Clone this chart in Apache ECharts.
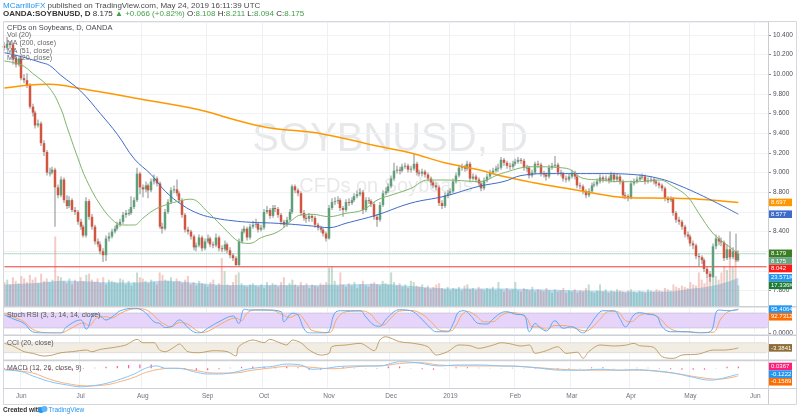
<!DOCTYPE html>
<html><head><meta charset="utf-8">
<script src="https://cdn.jsdelivr.net/npm/echarts@6/dist/echarts.min.js"></script>
<style>html,body{margin:0;padding:0;background:#fff}#c{width:800px;height:418px}</style>
</head><body><div id="c"></div>
<script>
// ---------- DATA ----------
const startDate = '2018-05-24';
const holidays = ['2019-04-19'];
const emptySlots = 10;
const monthNames = ['Jan','Feb','Mar','Apr','May','Jun','Jul','Aug','Sep','Oct','Nov','Dec'];

const opens = [10.29,10.27,10.31,10.30,10.16,10.10,10.16,9.96,9.94,9.89,
9.67,9.61,9.48,9.50,9.30,9.21,9.00,9.00,9.03,8.85,
8.77,8.93,8.72,8.66,8.72,8.62,8.60,8.50,8.45,8.36,
8.71,8.55,8.45,8.30,8.27,8.20,8.16,8.33,8.35,8.40,
8.43,8.47,8.50,8.57,8.59,8.59,8.65,8.72,8.99,8.85,
8.83,8.87,8.82,8.91,8.94,8.89,8.45,8.43,8.60,8.70,
8.82,8.83,8.79,8.72,8.57,8.42,8.40,8.35,8.24,8.26,
8.34,8.23,8.30,8.33,8.27,8.26,8.34,8.23,8.22,8.27,
8.21,8.16,8.13,8.06,8.30,8.40,8.43,8.34,8.45,8.47,
8.48,8.42,8.44,8.60,8.62,8.56,8.64,8.63,8.57,8.50,
8.47,8.52,8.60,8.86,8.82,8.79,8.59,8.54,8.53,8.56,
8.54,8.47,8.44,8.42,8.38,8.33,8.64,8.70,8.71,8.72,
8.64,8.62,8.70,8.69,8.72,8.76,8.78,8.80,8.62,8.72,
8.71,8.68,8.55,8.52,8.67,8.79,8.81,8.86,8.94,9.02,
9.03,9.02,9.06,9.07,9.03,9.04,9.09,9.00,8.99,9.01,
8.98,8.94,8.90,8.87,8.85,8.69,8.66,8.77,8.79,8.81,
8.91,8.97,9.05,9.06,9.04,9.09,8.94,8.96,8.93,8.89,
8.84,8.92,8.96,9.00,9.02,9.04,9.05,9.13,9.10,9.07,
9.06,9.09,9.11,9.13,9.12,9.05,9.05,8.97,9.00,9.09,
9.08,8.99,8.98,8.96,9.05,9.07,9.08,9.00,8.99,8.94,
8.93,8.96,9.00,8.96,8.87,8.86,8.81,8.77,8.81,8.87,
8.88,8.91,8.95,8.93,8.94,8.92,8.98,8.93,8.96,8.91,
8.77,8.76,8.74,8.89,8.91,8.93,8.95,8.96,8.91,8.92,
8.93,8.91,8.89,8.87,8.84,8.74,8.72,8.73,8.59,8.52,
8.50,8.45,8.37,8.35,8.28,8.26,8.15,8.14,8.11,8.02,
7.97,7.94,8.25,8.33,8.30,8.29,8.13,8.22,8.14,8.20,8.108];

const closes = [10.27,10.31,10.30,10.16,10.10,10.16,9.96,9.94,9.89,9.67,
9.61,9.48,9.50,9.30,9.21,9.00,9.00,9.03,8.85,8.77,
8.93,8.72,8.66,8.72,8.62,8.60,8.50,8.45,8.36,8.71,
8.55,8.45,8.30,8.27,8.20,8.16,8.33,8.35,8.40,8.43,
8.47,8.50,8.57,8.59,8.59,8.65,8.72,8.99,8.85,8.83,
8.87,8.82,8.91,8.94,8.89,8.45,8.43,8.60,8.70,8.82,
8.83,8.79,8.72,8.57,8.42,8.40,8.35,8.24,8.26,8.34,
8.23,8.30,8.33,8.27,8.26,8.34,8.23,8.22,8.27,8.21,
8.16,8.13,8.06,8.30,8.40,8.43,8.34,8.45,8.47,8.48,
8.42,8.44,8.60,8.62,8.56,8.64,8.63,8.57,8.50,8.47,
8.52,8.60,8.86,8.82,8.79,8.59,8.54,8.53,8.56,8.54,
8.47,8.44,8.42,8.38,8.33,8.64,8.70,8.71,8.72,8.64,
8.62,8.70,8.69,8.72,8.76,8.78,8.80,8.62,8.72,8.71,
8.68,8.55,8.52,8.67,8.79,8.81,8.86,8.94,9.02,9.03,
9.02,9.06,9.07,9.03,9.04,9.09,9.00,8.99,9.01,8.98,
8.94,8.90,8.87,8.85,8.69,8.66,8.77,8.79,8.81,8.91,
8.97,9.05,9.06,9.04,9.09,8.94,8.96,8.93,8.89,8.84,
8.92,8.96,9.00,9.02,9.04,9.05,9.13,9.10,9.07,9.06,
9.09,9.11,9.13,9.12,9.05,9.05,8.97,9.00,9.09,9.08,
8.99,8.98,8.96,9.05,9.07,9.08,9.00,8.99,8.94,8.93,
8.96,9.00,8.96,8.87,8.86,8.81,8.77,8.81,8.87,8.88,
8.91,8.95,8.93,8.94,8.92,8.98,8.93,8.96,8.91,8.77,
8.76,8.74,8.89,8.91,8.93,8.95,8.96,8.91,8.92,8.93,
8.91,8.89,8.87,8.84,8.74,8.72,8.73,8.59,8.52,8.50,
8.45,8.37,8.35,8.28,8.26,8.15,8.14,8.11,8.02,7.97,
7.94,8.25,8.33,8.30,8.29,8.13,8.22,8.14,8.20,8.109,8.175];

const highs = [10.33,10.38,10.34,10.32,10.19,10.18,10.18,10.00,10.01,9.91,
9.70,9.63,9.54,9.52,9.33,9.23,9.05,9.06,9.05,8.88,
8.96,8.95,8.77,8.76,8.74,8.65,8.62,8.53,8.47,8.75,
8.73,8.58,8.47,8.33,8.30,8.23,8.36,8.39,8.43,8.46,
8.50,8.53,8.60,8.62,8.63,8.76,8.75,9.05,9.01,8.88,
8.91,8.89,8.94,8.98,8.96,8.91,8.49,8.63,8.73,8.85,
8.87,8.93,8.81,8.74,8.59,8.45,8.42,8.37,8.29,8.37,
8.36,8.33,8.37,8.35,8.30,8.38,8.36,8.26,8.31,8.29,
8.24,8.18,8.15,8.33,8.43,8.46,8.45,8.48,8.51,8.53,
8.50,8.47,8.63,8.66,8.64,8.67,8.67,8.65,8.59,8.52,
8.55,8.63,8.88,8.88,8.84,8.81,8.62,8.57,8.59,8.58,
8.56,8.49,8.46,8.44,8.40,8.67,8.74,8.75,8.76,8.74,
8.66,8.73,8.74,8.75,8.79,8.82,8.84,8.82,8.75,8.75,
8.73,8.70,8.58,8.70,8.82,8.85,8.89,8.97,9.10,9.07,
9.06,9.09,9.10,9.09,9.07,9.19,9.11,9.03,9.04,9.03,
9.00,8.96,8.92,8.90,8.87,8.72,8.80,8.82,8.84,8.94,
9.00,9.08,9.09,9.08,9.12,9.11,8.99,8.98,8.95,8.91,
8.95,8.99,9.03,9.05,9.07,9.09,9.16,9.15,9.12,9.10,
9.12,9.14,9.16,9.15,9.14,9.08,9.07,9.03,9.11,9.12,
9.10,9.02,9.00,9.08,9.10,9.17,9.10,9.03,9.01,8.97,
8.99,9.03,9.02,8.98,8.90,8.88,8.83,8.84,8.90,8.91,
8.94,8.98,8.97,8.97,8.96,9.01,9.00,8.99,8.98,8.93,
8.80,8.78,8.92,8.94,8.96,8.98,8.99,8.98,8.95,8.96,
8.95,8.93,8.91,8.89,8.86,8.76,8.76,8.75,8.61,8.55,
8.52,8.47,8.40,8.37,8.31,8.28,8.18,8.16,8.13,8.04,
8.00,8.28,8.37,8.36,8.34,8.31,8.27,8.40,8.24,8.38,8.211];

const lows = [10.24,10.25,10.26,10.10,10.07,10.08,9.94,9.91,9.86,9.65,
9.57,9.45,9.46,9.27,9.17,8.97,8.96,8.98,8.45,8.74,
8.75,8.69,8.63,8.64,8.60,8.57,8.47,8.42,8.34,8.34,
8.52,8.42,8.27,8.24,8.17,8.09,8.10,8.30,8.33,8.38,
8.41,8.45,8.48,8.54,8.56,8.57,8.63,8.70,8.78,8.75,
8.80,8.74,8.80,8.88,8.86,8.43,8.38,8.41,8.58,8.68,
8.79,8.76,8.69,8.54,8.39,8.37,8.32,8.21,8.20,8.24,
8.20,8.21,8.28,8.24,8.23,8.24,8.20,8.19,8.20,8.18,
8.13,8.10,8.05,8.05,8.28,8.38,8.31,8.32,8.43,8.44,
8.39,8.40,8.42,8.58,8.53,8.54,8.60,8.54,8.47,8.44,
8.45,8.50,8.58,8.79,8.76,8.56,8.51,8.49,8.50,8.50,
8.44,8.41,8.39,8.35,8.30,8.32,8.62,8.67,8.68,8.61,
8.55,8.60,8.66,8.67,8.70,8.74,8.76,8.58,8.60,8.68,
8.65,8.52,8.45,8.50,8.65,8.77,8.79,8.84,8.92,8.99,
8.98,9.00,9.04,9.00,9.00,9.02,8.97,8.96,8.96,8.95,
8.91,8.87,8.84,8.82,8.66,8.63,8.64,8.74,8.77,8.79,
8.89,8.95,9.02,9.01,9.02,8.91,8.92,8.90,8.86,8.81,
8.82,8.90,8.94,8.98,9.00,9.01,9.03,9.07,9.04,9.03,
9.04,9.07,9.09,9.09,9.02,9.01,8.94,8.95,8.98,9.05,
8.96,8.95,8.92,8.94,9.03,9.05,8.97,8.96,8.91,8.90,
8.91,8.94,8.93,8.84,8.83,8.78,8.74,8.75,8.79,8.85,
8.86,8.89,8.90,8.91,8.89,8.90,8.90,8.91,8.88,8.74,
8.73,8.71,8.73,8.87,8.89,8.91,8.93,8.88,8.89,8.90,
8.88,8.86,8.84,8.81,8.71,8.69,8.70,8.56,8.49,8.47,
8.42,8.34,8.32,8.25,8.22,8.12,8.04,8.07,7.99,7.93,
7.89,7.93,8.22,8.26,8.25,8.10,8.11,8.12,8.12,8.09,8.094];

const volumesK = [20,22,18,24,21,19,25,23,20,26,
22,24,19,27,21,23,20,22,58,25,
24,21,19,23,18,22,20,24,21,26,
27,22,20,23,19,24,18,22,21,20,
19,23,22,18,21,17,20,28,24,23,
21,19,22,20,18,28,26,22,21,24,
20,23,21,19,22,25,18,20,17,21,
19,18,16,20,22,17,19,40,29,18,
17,20,26,28,19,17,16,18,19,17,
16,18,15,20,17,19,18,16,20,24,
17,19,22,18,16,20,17,19,15,18,
17,16,19,18,20,32,33,21,17,28,
18,16,19,17,20,15,18,21,17,16,
19,20,18,17,21,19,18,28,20,17,
19,16,18,15,21,20,17,16,18,15,
17,14,16,18,19,15,14,16,13,15,
14,16,13,17,18,14,15,13,16,14,
13,15,14,16,13,20,14,12,15,13,
14,20,13,12,15,14,13,16,12,14,
13,12,15,13,11,14,12,13,15,11,
13,12,14,11,13,12,15,18,12,11,
13,18,12,14,11,13,12,14,13,12,
11,13,14,12,11,13,12,11,14,13,
12,14,13,12,15,14,13,18,16,15,
17,16,15,20,18,17,28,22,19,24,
26,40,25,22,28,33,30,41,33,38,17.336];

// moving averages / indicators, read at sample bars as [barIndex, value]
const ma200Pts = [[0,9.86],[8,9.89],[16,9.90],[28,9.85],[46,9.76],[69,9.64],[80,9.55],[93,9.46],[109,9.41],[120,9.35],[132,9.27],[144,9.20],[156,9.10],[168,9.03],[177,8.96],[187,8.90],[199,8.84],[211,8.78],[221,8.745],[235,8.74],[246,8.73],[260,8.697]];
const ma51Pts = [[0,10.22],[6,10.18],[13,10.12],[16,10.09],[20,9.99],[27,9.83],[34,9.60],[40,9.39],[46,9.14],[52,8.98],[57,8.81],[63,8.67],[69,8.58],[75,8.535],[81,8.51],[87,8.495],[97,8.484],[109,8.457],[115,8.44],[121,8.485],[132,8.57],[144,8.69],[156,8.76],[168,8.86],[177,8.91],[183,8.97],[193,8.99],[211,8.99],[223,8.98],[232,8.94],[239,8.87],[249,8.74],[260,8.577]];
const ma20Pts = [[0,10.135],[6,10.095],[10,10.01],[16,9.86],[20,9.65],[22,9.48],[26,9.15],[29,8.93],[34,8.67],[39,8.50],[42,8.467],[46,8.467],[49,8.535],[53,8.62],[57,8.67],[61,8.704],[66,8.73],[72,8.60],[79,8.40],[83,8.30],[87,8.28],[91,8.34],[97,8.40],[102,8.52],[105,8.57],[109,8.576],[115,8.552],[121,8.586],[127,8.62],[132,8.72],[138,8.78],[144,8.84],[150,8.925],[156,8.925],[162,8.918],[168,8.908],[176,8.99],[187,9.06],[199,9.044],[205,8.942],[211,8.925],[218,8.908],[225,8.908],[232,8.925],[237,8.857],[242,8.755],[246,8.586],[251,8.383],[256,8.264],[260,8.179]];
const volMaPts = [[0,18],[10,19],[22,21],[34,20],[46,19.5],[57,21],[69,19],[81,17.5],[96,17.5],[109,17.5],[120,18],[132,18.3],[145,16.5],[156,14.7],[167,14.5],[177,14.7],[188,14],[199,13.3],[211,12.5],[223,12],[235,12],[242,14],[249,16],[256,20],[260,23.571]];
const stochKPts = [[0,72],[3,57],[7,38],[10,5],[14,0],[20,0],[22,25],[27,52],[29,15],[32,79],[34,68],[36,52],[39,72],[41,89],[46,99],[48,95],[50,81],[53,45],[55,38],[57,22],[59,25],[62,52],[65,22],[67,5],[69,0],[72,19],[76,45],[81,68],[83,38],[85,95],[87,92],[93,92],[98,85],[99,45],[102,79],[104,72],[106,19],[108,0],[114,0],[117,79],[119,89],[126,89],[128,65],[131,31],[133,27],[135,52],[138,85],[140,93],[144,89],[147,65],[151,19],[153,5],[157,5],[159,38],[161,85],[163,89],[165,72],[168,38],[171,36],[173,55],[176,81],[178,85],[181,75],[184,72],[186,5],[188,38],[190,19],[192,8],[195,49],[198,19],[201,25],[205,0],[207,25],[210,72],[212,89],[216,89],[218,59],[220,25],[223,72],[225,81],[228,75],[231,68],[233,25],[236,5],[242,5],[246,0],[250,5],[253,92],[257,89],[260,95.4064]];
const stochDPts = [[0,78],[3,65],[7,45],[10,15],[14,2],[20,0],[23,15],[28,40],[30,30],[33,62],[36,65],[38,60],[41,78],[45,95],[48,97],[51,88],[54,58],[56,40],[59,25],[62,42],[65,35],[68,10],[70,2],[73,12],[77,38],[82,60],[84,50],[86,80],[89,93],[95,90],[99,70],[101,62],[104,75],[107,40],[109,10],[115,2],[118,60],[121,85],[127,88],[130,72],[132,45],[134,32],[137,60],[140,88],[144,90],[148,75],[152,35],[154,12],[158,8],[160,30],[162,72],[164,86],[167,70],[170,45],[173,45],[176,70],[179,82],[182,78],[185,60],[187,25],[189,25],[192,15],[195,30],[198,30],[202,20],[206,8],[208,20],[211,55],[214,85],[217,85],[220,50],[222,45],[225,70],[228,78],[232,60],[235,25],[238,8],[243,4],[247,2],[251,3],[254,60],[257,88],[260,92.7312]];
const cciPts = [[0,87],[3,34],[7,-80],[10,-113],[14,-167],[17,-147],[20,-100],[24,-80],[29,-47],[31,-80],[34,-33],[39,7],[43,54],[47,167],[49,100],[53,100],[55,-47],[57,-80],[60,7],[62,74],[65,-80],[69,-100],[74,-60],[79,-80],[82,-167],[83,20],[88,154],[92,100],[94,167],[98,87],[100,54],[102,154],[105,100],[108,-47],[112,-147],[115,-113],[116,20],[121,54],[126,87],[131,-60],[133,154],[135,220],[140,120],[145,87],[150,20],[153,-147],[157,-80],[161,54],[165,40],[168,-13],[173,50],[176,100],[179,80],[183,34],[186,54],[188,-113],[192,-60],[196,20],[199,-113],[203,-90],[205,-213],[207,-80],[211,54],[216,34],[220,50],[223,87],[225,40],[230,7],[233,-180],[237,-213],[240,-147],[246,-127],[251,-47],[255,-47],[258,-30],[260,-3.3841]];
const macdPts = [[0,-0.036],[6,-0.07],[10,-0.16],[16,-0.28],[22,-0.35],[27,-0.39],[31,-0.37],[36,-0.32],[41,-0.23],[46,-0.12],[50,0],[54,0.05],[57,0],[62,0],[67,-0.07],[72,-0.12],[76,-0.12],[81,-0.09],[86,-0.02],[91,0.02],[95,0.04],[100,0.09],[105,0.07],[109,-0.02],[114,0],[119,0.04],[126,0.05],[133,0.05],[138,0.12],[140,0.14],[147,0.11],[154,0.05],[161,0.07],[168,0.07],[176,0.05],[183,0.04],[190,0],[197,-0.04],[204,-0.04],[211,-0.02],[218,-0.04],[223,-0.03],[230,-0.05],[237,-0.1],[244,-0.19],[250,-0.25],[253,-0.23],[257,-0.17],[260,-0.1222]];
const signalPts = [[0,-0.02],[10,-0.1],[16,-0.23],[22,-0.32],[29,-0.37],[36,-0.35],[41,-0.28],[46,-0.19],[50,-0.09],[55,-0.02],[60,0],[67,-0.04],[74,-0.1],[81,-0.1],[88,-0.04],[95,0.01],[102,0.05],[109,0.02],[116,-0.01],[126,0.04],[135,0.06],[140,0.1],[147,0.12],[154,0.07],[164,0.05],[176,0.05],[187,0.02],[197,-0.02],[206,-0.04],[216,-0.04],[225,-0.04],[232,-0.07],[239,-0.12],[246,-0.19],[253,-0.23],[260,-0.1589]];
const histPts = [[0,-0.016],[4,-0.03],[8,-0.04],[12,-0.05],[16,-0.05],[20,-0.04],[24,-0.04],[28,-0.01],[32,0.01],[36,0.03],[40,0.05],[44,0.07],[48,0.08],[52,0.08],[56,0.03],[60,0],[64,-0.02],[68,-0.04],[72,-0.04],[76,-0.02],[80,0.01],[84,0.03],[88,0.04],[92,0.03],[96,0.03],[100,0.04],[104,0.02],[108,-0.03],[112,-0.03],[116,0.01],[120,0.02],[124,0.01],[128,0.005],[132,-0.01],[136,0.04],[140,0.04],[144,0.004],[148,-0.02],[152,-0.03],[156,0.004],[160,0.02],[164,0.02],[168,0.01],[172,0.004],[176,0.004],[180,0.01],[184,0.004],[188,-0.01],[192,-0.02],[196,-0.02],[200,-0.01],[204,0.004],[208,0.02],[212,0.02],[216,0.004],[220,0.004],[224,0.01],[228,0.01],[232,-0.01],[236,-0.02],[240,-0.03],[244,-0.03],[248,-0.03],[252,0.004],[256,0.03],[260,0.0367]];

// last-value tags on the right scale: [text, value, colour]
const priceTags = [['8.697',8.697,'#ff9800'],['8.577',8.577,'#3f6bc9'],['8.179',8.179,'#3b7d23'],['8.175',8.175,'#6ba583'],['8.042',8.042,'#ff1a1a']];
const volumeTags = [['23.571K',23.571,'#2196f3'],['17.336K',17.336,'#1f7a38']];
const stochTags = [['95.4064',95.4064,'#2196f3'],['92.7312',92.7312,'#ff6d00']];
const cciTags = [['-3.3841',-3.3841,'#8f6d36']];
const macdTags = [['0.0367',0.0367,'#ff1f7a'],['-0.1222',-0.1222,'#2196f3'],['-0.1589',-0.1589,'#ff6d00']];
const supportLevel = 8.042;
const lastPrice = 8.175;
const stochBand = [20, 80];
const cciBand = [-100, 100];

// ---------- build categories (trading days) ----------
const categories = [];
(function(){
  const d = new Date(startDate + 'T00:00:00Z');
  while (categories.length < closes.length + emptySlots) {
    const wd = d.getUTCDay();
    const s = d.toISOString().slice(0,10);
    if (wd !== 0 && wd !== 6 && holidays.indexOf(s) < 0) categories.push(s);
    d.setUTCDate(d.getUTCDate() + 1);
  }
})();
const lastIdx = categories.length - 1;
const monthStart = new Set();
for (let i = 1; i < categories.length; i++) {
  if (categories[i].slice(5,7) !== categories[i-1].slice(5,7)) monthStart.add(i);
}
function fmtMonth(v){ const m = +v.slice(5,7); return m === 1 ? v.slice(0,4) : monthNames[m-1]; }
// price-scale labels that a value tag covers are not drawn (as on the original)
function fmtPrice(v){
  for (const t of priceTags) if (Math.abs(t[1] - v) < 0.06) return '';
  return v.toFixed(3);
}

const FONT = '"Liberation Sans", Arial, sans-serif';
const chart = echarts.init(document.getElementById('c'), null, {renderer:'canvas'});

const candleData = closes.map((c,i)=>[i, opens[i], c, lows[i], highs[i]]);
const volData = volumesK.map((v,i)=>({value:v, itemStyle:{color: closes[i] >= opens[i] ? 'rgba(107,165,131,0.40)' : 'rgba(215,84,66,0.30)'}}));

function xAx(g, showLabel){
  return {type:'category', gridIndex:g, data:categories, boundaryGap:true,
    axisLine:{show:false}, axisTick:{show:false},
    axisLabel:{show:showLabel, interval:(i)=>monthStart.has(i), formatter:fmtMonth, fontSize:6.5, color:'#70737c', margin:5, fontFamily:FONT},
    splitLine:{show: g !== 1, interval:(i)=>monthStart.has(i), lineStyle:{color:'#eef0f4', width:1}}};
}
function hLine(name, xi, yi, v, color, type, z){
  return {type:'line', name:name, xAxisIndex:xi, yAxisIndex:yi, data:[[0, v],[lastIdx, v]], showSymbol:false, silent:true, z:z,
    lineStyle:{color:color, width:1, type:type}};
}

const staticGraphics = [
  {type:'text', z:0, style:{text:'SOYBNUSD, D', x:390, y:140, textAlign:'center', textVerticalAlign:'middle', font:'40px ' + FONT, fill:'rgba(60,63,75,0.12)'}},
  {type:'text', z:0, style:{text:'CFDs on Soybeans', x:386, y:186, textAlign:'center', textVerticalAlign:'middle', font:'20px ' + FONT, fill:'rgba(60,63,75,0.12)'}},
  {type:'text', z:100, style:{text:'{a|MCarrilloFX} published on TradingView.com, May 24, 2019 16:11:39 UTC', x:3, y:6, textVerticalAlign:'middle', font:'8px ' + FONT, fill:'#4a4a4a', rich:{a:{fill:'#2196f3', color:'#2196f3', font:'8px ' + FONT}}}},
  {type:'text', z:100, style:{text:'{b|OANDA:SOYBNUSD, D} 8.175 {g|\u25B2 +0.066 (+0.82%)} O:{g|8.108} H:{g|8.211} L:{g|8.094} C:{g|8.175}', x:3, y:14, textVerticalAlign:'middle', font:'8px ' + FONT, fill:'#333', rich:{b:{font:'bold 8px ' + FONT, fill:'#333', color:'#333'}, g:{fill:'#43a047', color:'#43a047', font:'8px ' + FONT}}}},
  {type:'rect', z:100, shape:{x:3.5, y:21.5, width:793, height:383}, style:{fill:'none', stroke:'#d4d7dc', lineWidth:1}},
  {type:'line', z:100, shape:{x1:768.5, y1:21.5, x2:768.5, y2:404.5}, style:{stroke:'#c9ccd1', lineWidth:1}},
  {type:'rect', z:100, shape:{x:3.5, y:306, width:793, height:1.6}, style:{fill:'#cdd0d4'}},
  {type:'rect', z:100, shape:{x:3.5, y:334.4, width:793, height:1.6}, style:{fill:'#cdd0d4'}},
  {type:'rect', z:100, shape:{x:3.5, y:359.6, width:793, height:1.6}, style:{fill:'#cdd0d4'}},
  {type:'line', z:100, shape:{x1:3.5, y1:388.5, x2:796.5, y2:388.5}, style:{stroke:'#cdd0d4', lineWidth:1}},
  {type:'text', z:100, style:{text:'CFDs on Soybeans, D, OANDA', x:7, y:27.5, textVerticalAlign:'middle', font:'7.5px ' + FONT, fill:'#4a4a4a'}},
  {type:'text', z:100, style:{text:'Vol (20)', x:7, y:35.3, textVerticalAlign:'middle', font:'7px ' + FONT, fill:'#666'}},
  {type:'text', z:100, style:{text:'MA (200, close)', x:7, y:43, textVerticalAlign:'middle', font:'7px ' + FONT, fill:'#666'}},
  {type:'text', z:100, style:{text:'MA (51, close)', x:7, y:50.8, textVerticalAlign:'middle', font:'7px ' + FONT, fill:'#666'}},
  {type:'text', z:100, style:{text:'MA (20, close)', x:7, y:58.5, textVerticalAlign:'middle', font:'7px ' + FONT, fill:'#666'}},
  {type:'text', z:100, style:{text:'Stoch RSI (3, 3, 14, 14, close)', x:7, y:315, textVerticalAlign:'middle', font:'7px ' + FONT, fill:'#555'}},
  {type:'text', z:100, style:{text:'CCI (20, close)', x:7, y:343, textVerticalAlign:'middle', font:'7px ' + FONT, fill:'#555'}},
  {type:'text', z:100, style:{text:'MACD (12, 26, close, 9)', x:7, y:368.5, textVerticalAlign:'middle', font:'7px ' + FONT, fill:'#555'}},
  {type:'text', z:100, style:{text:'Created with', x:3, y:410, textVerticalAlign:'middle', font:'bold 6.5px ' + FONT, fill:'#333'}},
  {type:'circle', z:100, shape:{cx:41, cy:410, r:3}, style:{fill:'#2196f3'}},
  {type:'circle', z:100, shape:{cx:44.5, cy:409, r:3}, style:{fill:'#5eb5f7'}},
  {type:'text', z:100, style:{text:'TradingView', x:48.5, y:410, textVerticalAlign:'middle', font:'6.5px ' + FONT, fill:'#2196f3'}}
];

const option = {
  animation:false,
  backgroundColor:'#ffffff',
  textStyle:{fontFamily:FONT},
  grid:[
    {left:3, right:32, top:22, height:284},
    {left:3, right:32, top:22, height:284},
    {left:3, right:32, top:308, height:25},
    {left:3, right:32, top:336, height:24},
    {left:3, right:32, top:361, height:27}
  ],
  xAxis:[xAx(0,false), xAx(1,false), xAx(2,false), xAx(3,false), xAx(4,true)],
  yAxis:[
    {type:'value', gridIndex:0, position:'right', min:7.6432, max:10.5322, splitNumber:14,
      axisLine:{show:false}, axisTick:{show:true, length:3, lineStyle:{color:'#8a8d96'}},
      axisLabel:{formatter:fmtPrice, showMinLabel:false, showMaxLabel:false, fontSize:6.5, color:'#4a4d57', margin:5, fontFamily:FONT},
      splitLine:{show:true, lineStyle:{color:'#f0f2f5'}}},
    {type:'value', gridIndex:1, min:0, max:237, show:false},
    {type:'value', gridIndex:2, position:'right', min:0, max:100, interval:100,
      axisLine:{show:false}, axisTick:{show:true, length:3, lineStyle:{color:'#8a8d96'}},
      axisLabel:{formatter:(v)=> v === 0 ? '0.0000' : '', fontSize:6.5, color:'#4a4d57', margin:5, fontFamily:FONT},
      splitLine:{show:false}},
    {type:'value', gridIndex:3, min:-246, max:234, show:false},
    {type:'value', gridIndex:4, min:-0.416, max:0.154, show:false}
  ],
  series:[
    {type:'bar', name:'Volume', xAxisIndex:1, yAxisIndex:1, data:volData, barWidth:2, z:1, silent:true},
    {type:'line', name:'Vol MA', xAxisIndex:1, yAxisIndex:1, data:volMaPts, smooth:0.4, showSymbol:false, z:1,
      lineStyle:{width:0}, areaStyle:{color:'rgba(125,192,236,0.78)'}},
    hLine('Support', 0, 0, supportLevel, '#f23b3b', 'solid', 2),
    hLine('Last', 0, 0, lastPrice, '#6fb38c', 'dotted', 2),
    {type:'custom', name:'Candles', xAxisIndex:0, yAxisIndex:0, data:candleData, z:3,
      encode:{x:0, y:[1,2,3,4]},
      renderItem:function(params, api){
        const i = api.value(0), o = api.value(1), c = api.value(2), l = api.value(3), h = api.value(4);
        const pO = api.coord([i,o]), pC = api.coord([i,c]), pL = api.coord([i,l]), pH = api.coord([i,h]);
        const cx = Math.round(pO[0]);
        const up = c >= o;
        const top = Math.min(pO[1], pC[1]), bot = Math.max(pO[1], pC[1]);
        return {type:'group', children:[
          {type:'rect', shape:{x:cx-0.5, y:pH[1], width:1, height:Math.max(1, pL[1]-pH[1])}, style:{fill:'#8a8b90'}},
          {type:'rect', shape:{x:cx-1.25, y:top, width:2.5, height:Math.max(1, bot-top)}, style:{fill: up ? '#5fa07a' : '#d2553f'}}
        ]};
      }},
    {type:'line', name:'MA200', xAxisIndex:0, yAxisIndex:0, data:ma200Pts, smooth:0.4, showSymbol:false, z:4,
      lineStyle:{color:'#ff9800', width:1.5}},
    {type:'line', name:'MA51', xAxisIndex:0, yAxisIndex:0, data:ma51Pts, smooth:0.4, showSymbol:false, z:4,
      lineStyle:{color:'#3f6bc9', width:1}},
    {type:'line', name:'MA20', xAxisIndex:0, yAxisIndex:0, data:ma20Pts, smooth:0.4, showSymbol:false, z:4,
      lineStyle:{color:'#7fb56a', width:1}},
    {type:'line', name:'Stoch K', xAxisIndex:2, yAxisIndex:2, data:stochKPts, smooth:0.4, showSymbol:false, z:4,
      lineStyle:{color:'#5aa9f5', width:1},
      markArea:{silent:true, itemStyle:{color:'#e6d4fa'}, data:[[{yAxis:stochBand[0]},{yAxis:stochBand[1]}]]}},
    hLine('Stoch low', 2, 2, stochBand[0], '#b4b4bc', 'dotted', 2),
    hLine('Stoch high', 2, 2, stochBand[1], '#b4b4bc', 'dotted', 2),
    {type:'line', name:'Stoch D', xAxisIndex:2, yAxisIndex:2, data:stochDPts, smooth:0.4, showSymbol:false, z:3,
      lineStyle:{color:'#f7a866', width:1}},
    {type:'line', name:'CCI', xAxisIndex:3, yAxisIndex:3, data:cciPts, smooth:0.3, showSymbol:false, z:4,
      lineStyle:{color:'#c2a06a', width:1},
      markArea:{silent:true, itemStyle:{color:'#f2ede3'}, data:[[{yAxis:cciBand[0]},{yAxis:cciBand[1]}]]}},
    hLine('CCI low', 3, 3, cciBand[0], '#c9c9c9', 'dotted', 2),
    hLine('CCI high', 3, 3, cciBand[1], '#c9c9c9', 'dotted', 2),
    {type:'bar', name:'Hist', xAxisIndex:4, yAxisIndex:4, data:histPts, barWidth:1.2, z:2,
      itemStyle:{color:'#ff5a98'}},
    {type:'line', name:'MACD', xAxisIndex:4, yAxisIndex:4, data:macdPts, smooth:0.4, showSymbol:false, z:4,
      lineStyle:{color:'#84c5f8', width:1}},
    {type:'line', name:'Signal', xAxisIndex:4, yAxisIndex:4, data:signalPts, smooth:0.4, showSymbol:false, z:3,
      lineStyle:{color:'#f9b37e', width:1}}
  ],
  graphic:{elements:staticGraphics}
};
chart.setOption(option);

// ---------- right-scale value tags placed through the axes ----------
const H = 7.6;
function tagGroup(list){
  const arr = list.map(t=>({text:t[0], color:t[2], y:chart.convertToPixel({yAxisIndex:t[3]}, t[1])}));
  arr.sort((a,b)=>a.y-b.y);
  for (let k = 1; k < arr.length; k++) if (arr[k].y < arr[k-1].y + H) arr[k].y = arr[k-1].y + H;
  const els = [];
  arr.forEach(a=>{
    els.push({type:'rect', z:110, shape:{x:769, y:a.y - H/2, width:23, height:H}, style:{fill:a.color}});
    els.push({type:'text', z:111, style:{text:a.text, x:771, y:a.y, textVerticalAlign:'middle', font:'6px ' + FONT, fill:'#ffffff'}});
  });
  return els;
}
const tagEls = [].concat(
  tagGroup(priceTags.map(t=>t.concat([0])).concat(volumeTags.map(t=>t.concat([1])))),
  tagGroup(stochTags.map(t=>t.concat([2]))),
  tagGroup(cciTags.map(t=>t.concat([3]))),
  tagGroup(macdTags.map(t=>t.concat([4])))
);
chart.setOption({graphic:{elements: staticGraphics.concat(tagEls)}});
</script>
</body></html>
